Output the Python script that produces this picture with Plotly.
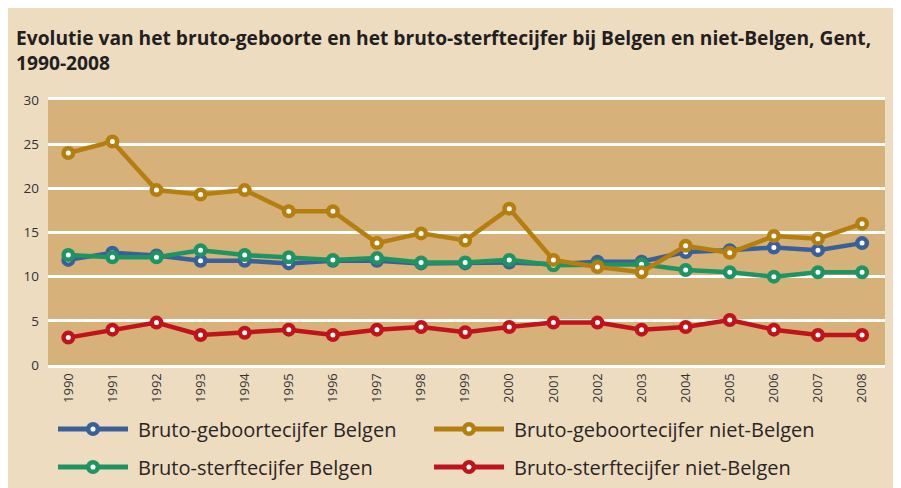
import plotly.graph_objects as go

years = [str(y) for y in range(1990, 2009)]
geboorte_belgen = [11.9, 12.7, 12.4, 11.8, 11.8, 11.5, 11.8, 11.8, 11.5, 11.5, 11.6, 11.4, 11.7, 11.7, 12.8, 13.0, 13.3, 13.0, 13.8]
geboorte_niet_belgen = [24.0, 25.3, 19.8, 19.3, 19.8, 17.4, 17.4, 13.8, 14.9, 14.1, 17.7, 11.9, 11.1, 10.5, 13.5, 12.7, 14.6, 14.3, 16.0]
sterfte_belgen = [12.45, 12.2, 12.2, 13.0, 12.45, 12.2, 11.9, 12.1, 11.6, 11.6, 11.9, 11.3, 11.3, 11.4, 10.75, 10.5, 10.0, 10.5, 10.5]
sterfte_niet_belgen = [3.1, 4.0, 4.8, 3.4, 3.65, 4.0, 3.4, 4.0, 4.3, 3.7, 4.3, 4.8, 4.8, 4.0, 4.3, 5.1, 4.0, 3.4, 3.4]
y_ticks = [0, 5, 10, 15, 20, 25, 30]

names = ["Bruto-geboortecijfer Belgen", "Bruto-geboortecijfer niet-Belgen",
         "Bruto-sterftecijfer Belgen", "Bruto-sterftecijfer niet-Belgen"]
colors = {"gb": "#3A6099", "gn": "#B57F10", "sb": "#1E9462", "sn": "#C0131C"}

W, H = 901, 488
ML, MT = 40, 92
PW, PH = 837, 265
MR, MB = W - ML - PW, H - MT - PH

def px(x):
    return (x - ML) / PW

def py(y):
    return 1 - (y - MT) / PH

fig = go.Figure()
series = [
    (geboorte_belgen, names[0], colors["gb"]),
    (sterfte_belgen, names[2], colors["sb"]),
    (geboorte_niet_belgen, names[1], colors["gn"]),
    (sterfte_niet_belgen, names[3], colors["sn"]),
]
for vals, name, col in series:
    fig.add_trace(go.Scatter(
        x=years, y=vals, name=name, mode="lines+markers",
        line=dict(color=col, width=4.5),
        marker=dict(symbol="circle", size=9.5, color="white", line=dict(color=col, width=4.5)),
        showlegend=False,
    ))

shapes = []
annotations = []
legend_items = [
    (names[0], colors["gb"], 50, 421),
    (names[1], colors["gn"], 426, 421),
    (names[2], colors["sb"], 50, 459),
    (names[3], colors["sn"], 426, 459),
]
for name, col, x0, yc in legend_items:
    shapes.append(dict(type="line", xref="paper", yref="paper", x0=px(x0), x1=px(x0 + 70),
                       y0=py(yc), y1=py(yc), line=dict(color=col, width=5)))
    cx = x0 + 35
    r = 4.8
    shapes.append(dict(type="circle", xref="paper", yref="paper", x0=px(cx - r), x1=px(cx + r),
                       y0=py(yc + r), y1=py(yc - r), fillcolor="white", line=dict(color=col, width=4.5)))
    annotations.append(dict(text=name, xref="paper", yref="paper", x=px(x0 + 78), y=py(yc),
                            xanchor="left", yanchor="middle", showarrow=False,
                            font=dict(family="Open Sans", size=20, color="#2A2623")))

fig.update_layout(
    width=W, height=H,
    margin=dict(l=ML, r=MR, t=MT, b=MB, pad=0),
    paper_bgcolor="#EEDCC0",
    plot_bgcolor="#D6B27A",
    title=dict(text="<b>Evolutie van het bruto-geboorte en het bruto-sterftecijfer bij Belgen en niet-Belgen, Gent,<br>1990-2008</b>",
               x=8 / W, xanchor="left", y=1 - 37 / H, yanchor="top",
               font=dict(family="Open Sans", size=19.2, color="#231F20")),
    xaxis=dict(type="category", range=[-0.46, 18.52], showgrid=False, tickangle=-90,
               showline=True, linecolor="white", linewidth=3, mirror=True,
               ticks="", tickfont=dict(family="Open Sans", size=13, color="#333333")),
    yaxis=dict(range=[0, 30], tickvals=y_ticks, showgrid=True, gridcolor="white", gridwidth=3,
               zeroline=False, ticks="", ticklabelstandoff=8,
               tickfont=dict(family="Open Sans", size=13.5, color="#333333")),
    shapes=shapes,
    annotations=annotations,
    showlegend=False,
)

fig.write_html("out.html")
